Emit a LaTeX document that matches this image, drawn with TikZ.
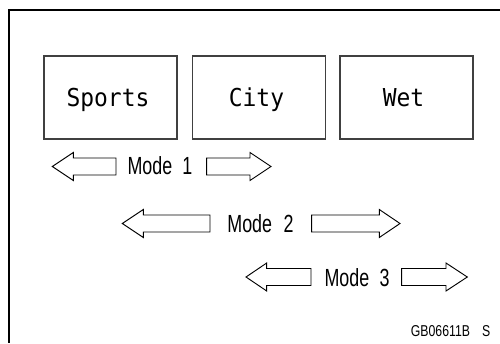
\documentclass[tikz,border=0pt]{standalone}
\usepackage{fontspec}
\newfontfamily\boxfont[FakeStretch=0.93]{DejaVu Sans Mono}
\newfontfamily\modefont[FakeStretch=0.72]{Liberation Sans}
\newfontfamily\codefont[FakeStretch=0.78]{Liberation Sans}
\newcommand\barrow[4]{\draw[blockarrow] (#1,#4) -- (#2,#4-14) -- (#2,#4-8.5) -- (#3,#4-8.5) -- (#3,#4+8.5) -- (#2,#4+8.5) -- (#2,#4+14) -- cycle;}
\tikzset{
  modebox/.style={draw=black!75, line width=0.9pt, minimum width=99.75pt, minimum height=62.25pt, inner sep=0pt},
  boxlabel/.style={inner sep=0pt, font=\boxfont\fontsize{18.5pt}{20pt}\selectfont, text height=13.5pt, text depth=0pt},
  modelabel/.style={inner sep=0pt, font=\modefont\fontsize{18.6pt}{20pt}\selectfont, text height=13.3pt, text depth=0pt},
  codelabel/.style={inner sep=0pt, font=\codefont\fontsize{11.8pt}{13pt}\selectfont},
  blockarrow/.style={draw=black, line width=0.7pt, line join=miter},
  frameline/.style={draw=black, line width=1.6pt}
}
\begin{document}
\begin{tikzpicture}[x=0.75pt, y=-0.75pt]
\useasboundingbox (0,0) rectangle (500,343);
\coordinate (ftr) at (500,10);
\coordinate (ftl) at (9,10);
\coordinate (fbl) at (9,343);
\draw[frameline] (ftr) -- (ftl) -- (fbl);
% boxes
\node[modebox] (sports) at (110.5,97.5) {};
\node[modebox] (city) at (259,97.5) {};
\node[modebox] (wet) at (406.5,97.5) {};
\node[boxlabel] (sportsT) at (108,97.5) {Sports};
\node[boxlabel] (cityT) at (256.5,97.5) {City};
\node[boxlabel] (wetT) at (403.5,97.5) {Wet};
% mode labels
\node[modelabel] (m1) at (160,165.5) {Mode \hspace{4pt}1};
\node[modelabel] (m2) at (260.5,223.8) {Mode \hspace{5pt}2};
\node[modelabel] (m3) at (357,277.5) {Mode \hspace{4pt}3};
% arrows
\barrow{52.3}{73.3}{116}{166.5}
\barrow{271}{250}{206.7}{166.5}
\barrow{122.3}{143.3}{210}{223.5}
\barrow{400}{379.3}{311.7}{223.5}
\barrow{246}{266.7}{311}{277}
\barrow{467.3}{446}{401.7}{277}
% code
\node[codelabel, anchor=base east] (code) at (490.5,336) {GB06611B\hspace{9pt}S};
\end{tikzpicture}
\end{document}
